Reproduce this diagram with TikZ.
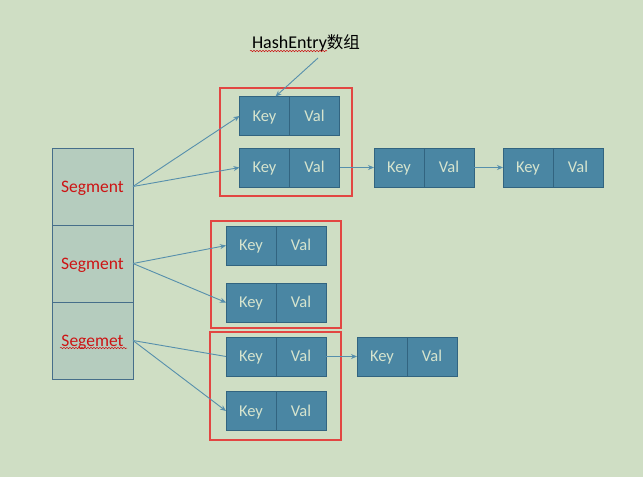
\documentclass[tikz,border=0pt]{standalone}
\usepackage{fontspec}
\setmainfont{Carlito}
\newfontfamily\cjk{Noto Sans CJK SC}
\usepackage{tikz}
\usetikzlibrary{positioning,arrows.meta,decorations.pathmorphing}
\definecolor{bggreen}{RGB}{207, 222, 196}
\definecolor{cellblue}{RGB}{74, 134, 163}
\definecolor{celledge}{RGB}{50, 100, 128}
\definecolor{celltext}{RGB}{214, 228, 206}
\definecolor{segfill}{RGB}{181, 204, 190}
\definecolor{segedge}{RGB}{70, 110, 138}
\definecolor{segred}{RGB}{205, 20, 20}
\definecolor{framered}{RGB}{226, 70, 66}
\definecolor{arrowblue}{RGB}{86, 143, 172}

\begin{document}
\begin{tikzpicture}[
  x=1pt, y=-1pt,
  cell/.style={draw=celledge, line width=1pt, fill=cellblue, text=celltext,
    minimum width=50pt, minimum height=39pt, inner sep=0pt, outer sep=0pt,
    text height=10.6pt, text depth=0pt,
    font=\fontsize{16.5}{19}\selectfont},
  segcell/.style={draw=segedge, line width=1pt, fill=segfill, text=segred,
    minimum width=81pt, minimum height=77pt, inner sep=0pt, outer sep=0pt,
    text height=11.3pt, text depth=0pt,
    font=\fontsize{17.5}{20}\selectfont},
  redframe/.style={draw=framered, line width=1.2pt},
  link/.style={draw=arrowblue, line width=0.9pt, -{Stealth[length=6pt,width=5pt]}},
  squiggle/.style={draw=segred, line width=0.5pt, decorate,
    decoration={snake, amplitude=0.7pt, segment length=3pt}}
]
  \fill[bggreen] (0,0) rectangle (643,477);
  \useasboundingbox (0,0) rectangle (643,477);

  % segment column
  \node[segcell] (s1) at (92.5,186.5) {Segment};
  \node[segcell, below=0pt of s1] (s2) {Segment};
  \node[segcell, below=0pt of s2] (s3) {Segemet};
  \draw[squiggle] (60,348) -- (127,348);

  % first table
  \node[cell] (k1) at (264.5,116) {Key};
  \node[cell, right=0pt of k1] (v1) {Val};
  \node[cell] (k2) at (264.5,167.5) {Key};
  \node[cell, right=0pt of k2] (v2) {Val};
  \node[cell] (k3) at (399,167.5) {Key};
  \node[cell, right=0pt of k3] (v3) {Val};
  \node[cell] (k4) at (528,167.5) {Key};
  \node[cell, right=0pt of k4] (v4) {Val};
  \draw[redframe] (220,88) rectangle (352,196);

  % second table
  \node[cell] (k5) at (251,245.5) {Key};
  \node[cell, right=0pt of k5] (v5) {Val};
  \node[cell] (k6) at (251,302.5) {Key};
  \node[cell, right=0pt of k6] (v6) {Val};
  \draw[redframe] (211,221) rectangle (341,328);

  % third table
  \node[cell] (k7) at (251,356.5) {Key};
  \node[cell, right=0pt of k7] (v7) {Val};
  \node[cell] (k8) at (251,411) {Key};
  \node[cell, right=0pt of k8] (v8) {Val};
  \node[cell] (k9) at (382,356.5) {Key};
  \node[cell, right=0pt of k9] (v9) {Val};
  \draw[redframe] (210,332) rectangle (341,440);

  % label
  \node[font=\fontsize{18}{21}\selectfont] (hashlabel) at (306,43) {HashEntry{\cjk\fontsize{16.5}{21}\selectfont 数组}};
  \draw[squiggle] (250,51) -- (327,51);
  \coordinate (hashtail) at (318,58);

  % links
  \draw[link] (hashtail) -- ([xshift=11pt]k1.north);
  \draw[link] (s1.east) -- (k1.west);
  \draw[link] (s1.east) -- (k2.west);
  \draw[link] (v2.east) -- (k3.west);
  \draw[link] (v3.east) -- (k4.west);
  \draw[link] (s2.east) -- (k5.west);
  \draw[link] (s2.east) -- (k6.west);
  \draw[draw=arrowblue, line width=0.9pt] (s3.east) -- (k7.west);
  \draw[link] (s3.east) -- (k8.west);
  \draw[link] (v7.east) -- (k9.west);
\end{tikzpicture}
\end{document}
